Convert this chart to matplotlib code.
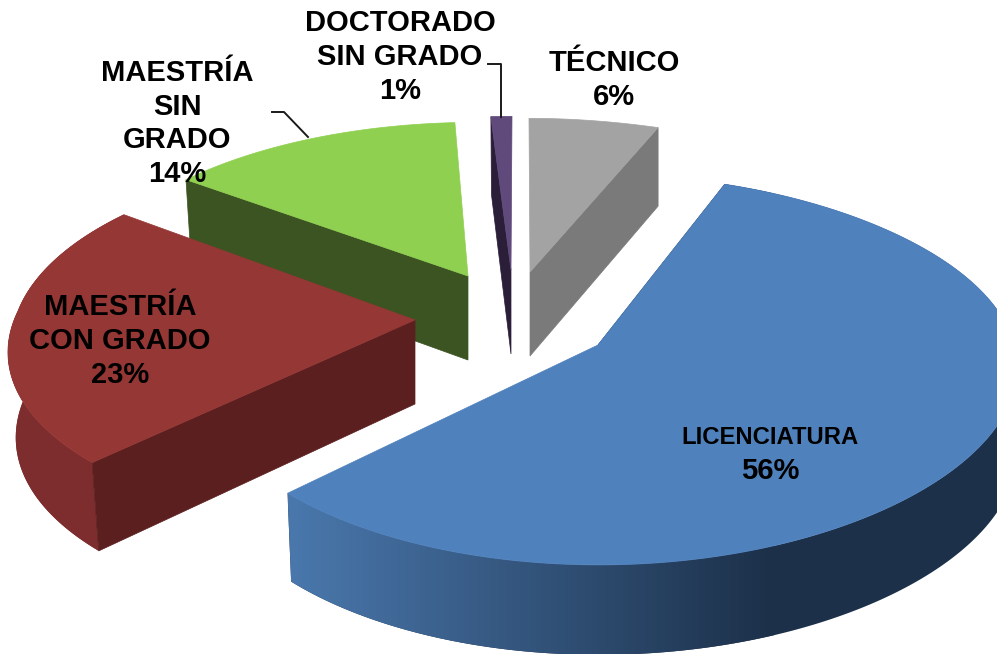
# Exploded 3D pie: niveles de estudio
import numpy as np
import matplotlib
matplotlib.use("Agg")
import matplotlib.pyplot as plt
from matplotlib.patches import Polygon
from matplotlib.colors import to_rgb

# Data, clockwise from the top
categories = ["TÉCNICO", "LICENCIATURA", "MAESTRÍA CON GRADO", "MAESTRÍA SIN GRADO", "DOCTORADO SIN GRADO"]
values = [6, 56, 23, 14, 1]

# Look of each slice
apex = [(530, 272), (598, 345), (415, 320), (468, 276), (511, 270)]
arc_shift = [(-1, 0), (1, -10), (-1, -9), (8, 0), (1, 0)]
ry_slice = [181, 189, 181, 181, 181]
bulge = [94, 16, 0, 0, 0]
front_stretch = [0, 0, 18, 0, 0]
top_colors = ["#a3a3a3", "#4f81bd", "#953735", "#8fd050", "#604a7b"]
cut_colors = ["#7a7a7a", "#1f3552", "#5a1f1e", "#3c5322", "#2a1e38"]
rim_left = {1: "#4a78ad", 2: "#7e2e2e"}
rim_right = {1: "#1c3049", 2: "#7a2b2b"}

RX, K = 396, 0.178


def project(i, ang, down=False):
    # clockwise angle (deg) on the unit disc -> picture pixels, with perspective
    a, b = apex[i]
    u = np.sin(np.radians(ang))
    v = np.cos(np.radians(ang))
    s = 1 / (1 + K * v)
    rx = RX + bulge[i] * np.clip(u, 0, 1) ** 2 + front_stretch[i] * np.clip(-v, 0, 1)
    x = a + arc_shift[i][0] + rx * u * s
    y = b + arc_shift[i][1] - ry_slice[i] * v * s
    if down:
        y = y + 84 * (1 - 0.07 * v)
        x = x + np.clip(530 - x, 0, None) * 0.015
    return x, y


fig = plt.figure(figsize=(9.97, 6.54), dpi=100, facecolor="white")
ax = fig.add_axes([0, 0, 1, 1])

edges = np.concatenate([[0], np.cumsum(values)]) * 3.6
# back slices first so that the front ones cover them
order = [3, 2, 4, 0, 1]
# which cut face can be seen: the right one on Técnico, the left one elsewhere
cut_at = [edges[1], edges[1], edges[2], edges[3], edges[4]]

for z, i in enumerate(order):
    a, b = apex[i]
    ang = np.linspace(edges[i], edges[i + 1], 240)
    xt, yt = project(i, ang)
    xb, yb = project(i, ang, down=True)

    # outer rim with a left to right shade, only the front slices show it
    if i in rim_left:
        rim = Polygon(np.c_[np.r_[xt, xb[::-1]], np.r_[yt, yb[::-1]]], transform=ax.transData,
                      fc="none", ec="none")
        ax.add_patch(rim)
        c0, c1 = np.array(to_rgb(rim_left[i])), np.array(to_rgb(rim_right[i]))
        x_lo, x_hi = xt.min(), xt.min() + 485
        shade = np.linspace(0, 1, 256)[None, :, None]
        img = c0 + (c1 - c0) * shade
        im = ax.imshow(img, extent=(x_lo, x_hi, 654, 0), aspect="auto", zorder=z, interpolation="bilinear")
        im.set_clip_path(rim)
        # past the end of the shade the rim stays dark
        ax.fill(np.r_[xt, xb[::-1]], np.r_[yt, yb[::-1]], color=rim_right[i], lw=0, zorder=z - 0.1)

    # cut face
    xc, yc = project(i, cut_at[i])
    xd, yd = project(i, cut_at[i], down=True)
    ax.fill([a, xc, xd, a], [b, yc, yd, b + 84], color=cut_colors[i], lw=0.5, zorder=z + 0.1)

    # top face
    ax.fill(np.r_[a, xt], np.r_[b, yt], color=top_colors[i], lw=0.5, zorder=z + 0.2)

ax.set_xlim(0, 997)
ax.set_ylim(654, 0)
ax.axis("off")

# labels
font = dict(family="Liberation Sans", fontweight="bold", color="black", ha="center", va="center",
            fontsize=21, linespacing=1.26, zorder=20)
ax.text(614, 80, f"TÉCNICO\n{values[0]}%", **font)
ax.text(400, 57, f"DOCTORADO\nSIN GRADO\n{values[4]}%", **font)
ax.text(177, 123.5, f"MAESTRÍA\nSIN\nGRADO\n{values[3]}%", **font)
ax.text(120, 341, f"MAESTRÍA\nCON GRADO\n{values[2]}%", **font)
ax.text(770, 438, "LICENCIATURA", **{**font, "fontsize": 17.2})
ax.text(770, 471, f"{values[1]}%", **font)

# leader lines
ax.plot([488, 501, 501], [64, 64, 117], color="#1a1a1a", lw=1.4, zorder=15)
ax.plot([272, 284, 308], [112, 112, 137], color="#1a1a1a", lw=1.4, zorder=15)

fig.savefig("out.png", dpi=100)
